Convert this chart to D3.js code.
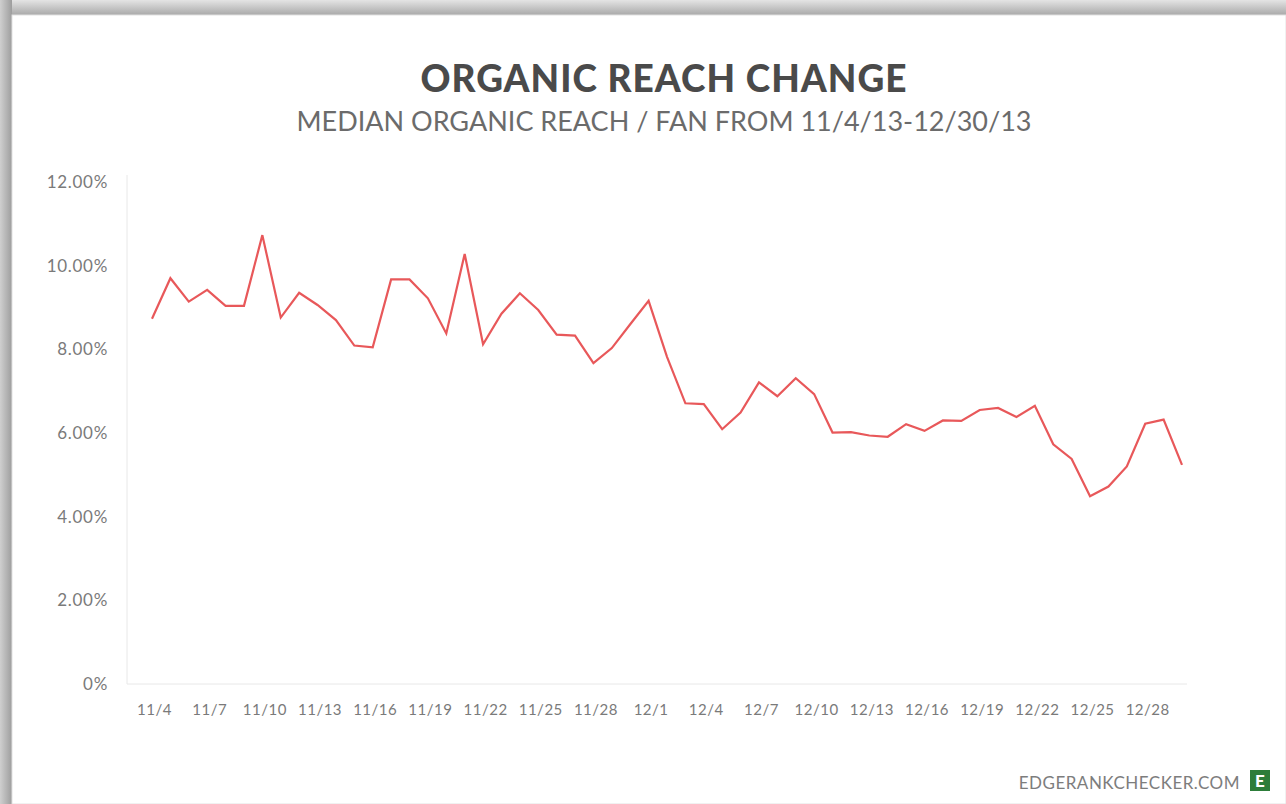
<!DOCTYPE html>
<html>
<head>
<meta charset="utf-8">
<script src="https://cdn.jsdelivr.net/npm/d3@7"></script>
<style>
  html, body { margin: 0; padding: 0; background: #fff; }
  svg { display: block; }
</style>
</head>
<body>
<div id="chart"></div>
<script>
// --------------------------------------------------------------------------------------
// data - median organic reach / fan (percent)
// --------------------------------------------------------------------------------------
var days = [
  "11/4", "11/5", "11/6", "11/7", "11/8", "11/9", "11/10", "11/11", "11/12", "11/13",
  "11/14", "11/15", "11/16", "11/17", "11/18", "11/19", "11/20", "11/21", "11/22", "11/23",
  "11/24", "11/25", "11/26", "11/27", "11/28", "11/29", "11/30", "12/1", "12/2", "12/3",
  "12/4", "12/5", "12/6", "12/7", "12/8", "12/9", "12/10", "12/11", "12/12", "12/13",
  "12/14", "12/15", "12/16", "12/17", "12/18", "12/19", "12/20", "12/21", "12/22", "12/23",
  "12/24", "12/25", "12/26", "12/27", "12/28", "12/29", "12/30"
];

var reach = [
  8.73, 9.70, 9.14, 9.42, 9.04, 9.04, 10.73, 8.76, 9.35, 9.06,
  8.70, 8.09, 8.05, 9.67, 9.67, 9.22, 8.38, 10.28, 8.12, 8.85,
  9.34, 8.94, 8.35, 8.33, 7.67, 8.03, 8.60, 9.16, 7.82, 6.71,
  6.69, 6.09, 6.49, 7.21, 6.88, 7.31, 6.93, 6.01, 6.02, 5.94,
  5.91, 6.21, 6.05, 6.30, 6.29, 6.55, 6.60, 6.38, 6.65, 5.73,
  5.38, 4.49, 4.72, 5.20, 6.22, 6.32, 5.24
];

// every third day gets a label
var x_ticks = ["11/4", "11/7", "11/10", "11/13", "11/16", "11/19", "11/22", "11/25", "11/28", "12/1",
               "12/4", "12/7", "12/10", "12/13", "12/16", "12/19", "12/22", "12/25", "12/28"];
var y_ticks = [0, 2, 4, 6, 8, 10, 12];

var title = "ORGANIC REACH CHANGE";
var subtitle = "MEDIAN ORGANIC REACH / FAN FROM 11/4/13-12/30/13";
var footer = "EDGERANKCHECKER.COM";

// --------------------------------------------------------------------------------------
// draw the card (page frame with shadow)
// --------------------------------------------------------------------------------------
function draw_frame(svg, W, H)
{
  var defs = svg.append("defs");

  var top_grad = defs.append("linearGradient")
      .attr("id", "top_shadow").attr("x1", 0).attr("y1", 0).attr("x2", 0).attr("y2", 1);
  top_grad.append("stop").attr("offset", "0%").attr("stop-color", "#e4e4e4");
  top_grad.append("stop").attr("offset", "100%").attr("stop-color", "#a9a9a9");

  var left_grad = defs.append("linearGradient")
      .attr("id", "left_shadow").attr("x1", 0).attr("y1", 0).attr("x2", 1).attr("y2", 0);
  left_grad.append("stop").attr("offset", "0%").attr("stop-color", "#cfcfcf");
  left_grad.append("stop").attr("offset", "100%").attr("stop-color", "#9d9d9d");

  svg.append("rect").attr("width", W).attr("height", H).attr("fill", "#d6d6d6");
  svg.append("rect").attr("x", 0).attr("y", 0).attr("width", W).attr("height", 15)
      .attr("fill", "url(#top_shadow)");
  svg.append("rect").attr("x", 0).attr("y", 0).attr("width", 12).attr("height", H)
      .attr("fill", "url(#left_shadow)");

  // the white card
  svg.append("rect").attr("x", 12).attr("y", 15).attr("width", W - 12).attr("height", H - 15)
      .attr("fill", "#ffffff").attr("stroke", "#e2e2e2").attr("stroke-width", 1);
}

// --------------------------------------------------------------------------------------
// draw the line chart
// --------------------------------------------------------------------------------------
function graph()
{
  var W = 1286, H = 804;
  var margin = {top: 182, left: 127, bottom: 120, right: 99};
  var plot_left = 152, plot_right = 1182;   // first / last point

  var svg = d3.select("#chart").append("svg")
      .attr("width", W)
      .attr("height", H);

  draw_frame(svg, W, H);

  // ==========================================================

  var x = d3.scalePoint()
      .domain(days)
      .range([plot_left, plot_right]);

  var y = d3.scaleLinear()
      .domain([0, 12])
      .range([H - margin.bottom, margin.top]);

  // ==========================================================
  // titles

  svg.append("text")
    .attr("x", 664)
    .attr("y", 92)
    .attr("text-anchor", "middle")
    .style("font-family", "Lato, 'Open Sans', sans-serif")
    .style("font-weight", "900")
    .style("font-size", "37px")
    .style("letter-spacing", "1px")
    .style("fill", "#4a4a4a")
    .text(title);

  svg.append("text")
    .attr("x", 664)
    .attr("y", 131)
    .attr("text-anchor", "middle")
    .style("font-family", "Lato, 'Open Sans', sans-serif")
    .style("font-weight", "400")
    .style("font-size", "27px")
    .style("fill", "#6b6b6b")
    .text(subtitle);

  // ==========================================================
  // axes

  var y_axis = svg.append("g")
      .attr("transform", "translate(" + margin.left + ",0)")
      .call(d3.axisLeft(y)
        .tickValues(y_ticks)
        .tickSize(0)
        .tickPadding(19)
        .tickFormat(function(d) { return d == 0 ? "0%" : d3.format(".2f")(d) + "%"; }));

  y_axis.select(".domain")
      .attr("d", "M0," + (y(0)) + "V" + (y(12) - 7))
      .attr("stroke", "#e8e8e8");

  y_axis.selectAll("text")
      .style("font-family", "Lato, 'Open Sans', sans-serif")
      .style("font-size", "17px")
      .style("letter-spacing", "0.7px")
      .style("fill", "#7a7a7a");

  var x_axis = svg.append("g")
      .attr("transform", "translate(0," + y(0) + ")")
      .call(d3.axisBottom(x)
        .tickValues(x_ticks)
        .tickSize(0)
        .tickPadding(20));

  x_axis.select(".domain")
      .attr("d", "M" + margin.left + ",0H" + (W - margin.right))
      .attr("stroke", "#e8e8e8");

  x_axis.selectAll("text")
      .attr("dx", "2")
      .style("font-family", "Lato, 'Open Sans', sans-serif")
      .style("font-size", "15px")
      .style("letter-spacing", "0.5px")
      .style("fill", "#7a7a7a");

  // ==========================================================
  // the line

  var line = d3.line()
      .x(function(d, i) { return x(days[i]); })
      .y(function(d) { return y(d); });

  svg.append("path")
      .datum(reach)
      .attr("fill", "none")
      .attr("stroke", "#e8585a")
      .attr("stroke-width", 2.2)
      .attr("stroke-linejoin", "miter")
      .attr("d", line);

  // ==========================================================
  // footer with logo

  svg.append("text")
    .attr("x", 1240)
    .attr("y", 789)
    .attr("text-anchor", "end")
    .style("font-family", "Lato, 'Open Sans', sans-serif")
    .style("font-size", "17px")
    .style("letter-spacing", "0.5px")
    .style("fill", "#7d7d7d")
    .text(footer);

  svg.append("rect")
    .attr("x", 1250).attr("y", 770).attr("width", 20).attr("height", 21)
    .attr("fill", "#2d7d3a");

  svg.append("text")
    .attr("x", 1260)
    .attr("y", 787)
    .attr("text-anchor", "middle")
    .style("font-family", "Lato, 'Open Sans', sans-serif")
    .style("font-weight", "900")
    .style("font-size", "17px")
    .style("fill", "#ffffff")
    .text("E");
}
// --------------------------------------------------------------------------------------
graph();
// --------------------------------------------------------------------------------------
</script>
</body>
</html>
